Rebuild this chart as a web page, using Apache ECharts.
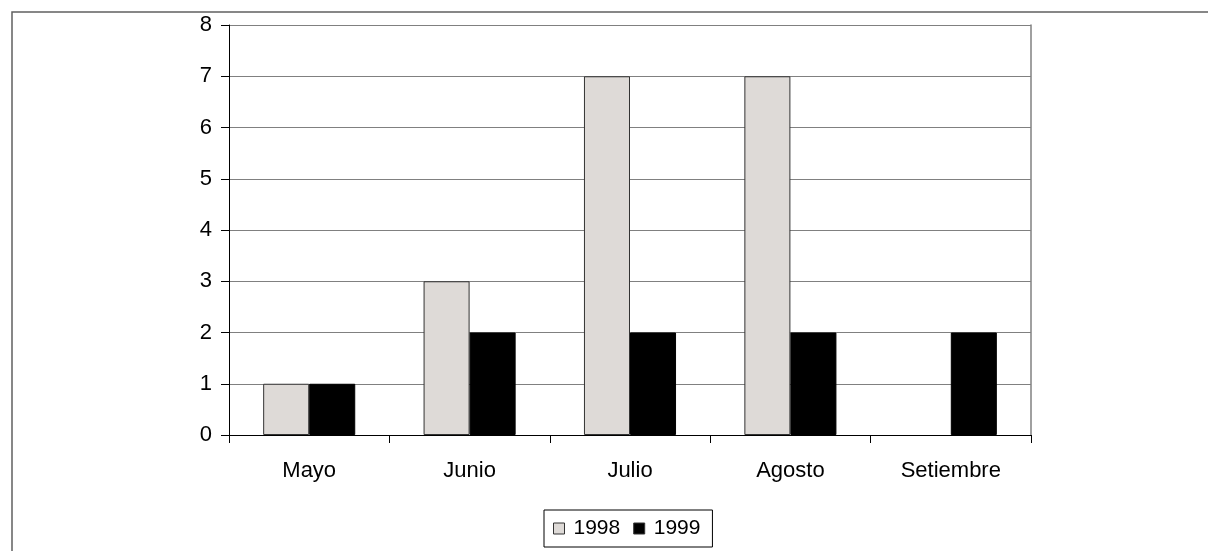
<!DOCTYPE html>
<html>
<head>
<meta charset="utf-8">
<script src="https://cdn.jsdelivr.net/npm/echarts@6/dist/echarts.min.js"></script>
<style>html,body{margin:0;padding:0;background:#fff;}#c{width:1208px;height:551px;}</style>
</head>
<body>
<div id="c"></div>
<script>
const categories = ['Mayo', 'Junio', 'Julio', 'Agosto', 'Setiembre'];
const series1998 = [1, 3, 7, 7, 0];
const series1999 = [1, 2, 2, 2, 2];
const seriesNames = ['1998', '1999'];

const hideZero = arr => arr.map(v => (v === 0 ? '-' : v));

const chart = echarts.init(document.getElementById('c'), null, {renderer: 'canvas'});
const font = '"Liberation Sans", Arial, sans-serif';
chart.setOption({
  animation: false,
  backgroundColor: '#fff',
  textStyle: {fontFamily: font},
  graphic: [{
    type: 'rect', left: 9.5, top: 9.5, silent: true,
    shape: {x: 0, y: 0, width: 1400, height: 800},
    style: {fill: 'none', stroke: '#606060', lineWidth: 1.5}
  }],
  grid: {left: 229, right: 177, top: 25, bottom: 116, containLabel: false},
  legend: {
    data: seriesNames, left: 544, top: 510,
    padding: [8, 12, 8, 9], itemGap: 13,
    itemWidth: 11, itemHeight: 11, icon: 'rect',
    itemStyle: {borderColor: '#333', borderWidth: 1},
    borderColor: '#000', borderWidth: 1,
    textStyle: {fontSize: 21, color: '#000', fontFamily: font, padding: [0, 0, 0, 4]}
  },
  xAxis: [{
    type: 'category', data: categories, position: 'bottom',
    axisLine: {lineStyle: {color: '#000', width: 1}},
    axisTick: {show: true, length: 8, lineStyle: {color: '#000'}},
    axisLabel: {fontSize: 22, color: '#000', margin: 25, fontFamily: font},
    splitLine: {show: false}
  }, {
    type: 'category', data: categories, position: 'top',
    axisLine: {show: true, lineStyle: {color: '#000', width: 1}},
    axisTick: {show: false}, axisLabel: {show: false}
  }],
  yAxis: [{
    type: 'value', min: 0, max: 8, interval: 1, position: 'left',
    axisLine: {show: true, lineStyle: {color: '#000', width: 1}},
    axisTick: {show: true, length: 8, lineStyle: {color: '#000'}},
    axisLabel: {fontSize: 22, color: '#000', margin: 17, fontFamily: font},
    splitLine: {show: true, lineStyle: {color: '#808080', width: 1}}
  }, {
    type: 'value', min: 0, max: 8, interval: 1, position: 'right',
    axisLine: {show: true, lineStyle: {color: '#808080', width: 1.5}},
    axisTick: {show: false}, axisLabel: {show: false}, splitLine: {show: false}
  }],
  series: [{
    name: seriesNames[0], type: 'bar', data: hideZero(series1998),
    barGap: '0%', barCategoryGap: '42.6%',
    itemStyle: {color: '#dedad7', borderColor: '#333', borderWidth: 1}
  }, {
    name: seriesNames[1], type: 'bar', data: hideZero(series1999),
    barGap: '0%', barCategoryGap: '42.6%',
    itemStyle: {color: '#000', borderColor: '#000', borderWidth: 1}
  }]
});
</script>
</body>
</html>
